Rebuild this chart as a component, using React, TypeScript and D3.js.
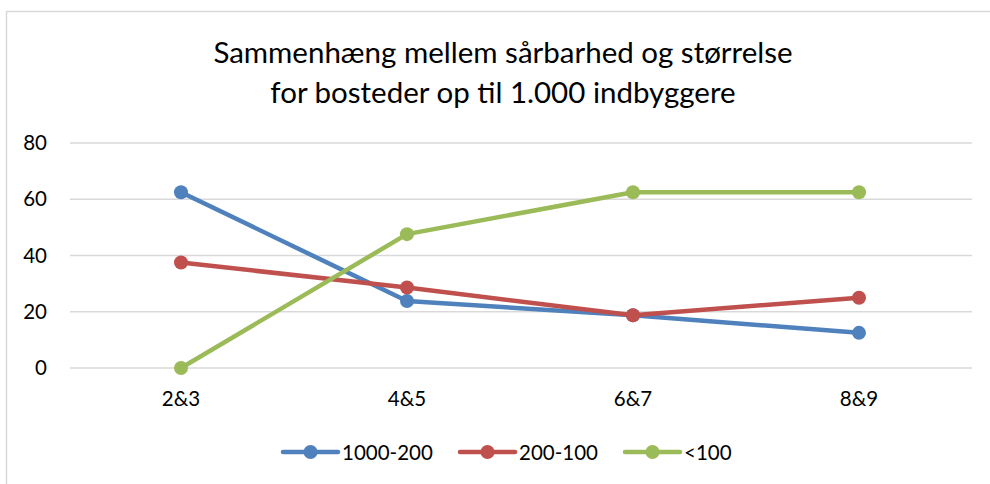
import React from "react";
import * as d3 from "d3";

const categories = ["2&3", "4&5", "6&7", "8&9"];
const seriesNames = ["1000-200", "200-100", "<100"];
const values1000_200 = [62.5, 23.8, 18.75, 12.5];
const values200_100 = [37.5, 28.6, 18.75, 25];
const valuesUnder100 = [0, 47.6, 62.5, 62.5];
const yTicks = [0, 20, 40, 60, 80];
const titleLines = ["Sammenhæng mellem sårbarhed og størrelse", "for bosteder op til 1.000 indbyggere"];
const colors = ["#4F81BD", "#C0504D", "#9BBB59"];

const W = 990;
const H = 484;
const FONT = "Lato, 'Open Sans', sans-serif";

export default function App() {
  const series = [values1000_200, values200_100, valuesUnder100];
  const x = d3.scaleBand<string>().domain(categories).range([68, 972]);
  const y = d3.scaleLinear().domain([0, 80]).range([368, 143]);
  const cx = (c: string) => (x(c) as number) + x.bandwidth() / 2;
  const line = d3
    .line<number>()
    .x((_, i) => cx(categories[i]))
    .y((d) => y(d));

  const legendX = [283, 460, 625];
  const legendY = 452;

  return (
    <svg width={W} height={H} style={{ position: "absolute", left: 0, top: 0 }}>
      <rect x={0} y={0} width={W} height={H} fill="#fff" />
      <line x1={6} x2={W} y1={11.5} y2={11.5} stroke="#d9d9d9" strokeWidth={1.5} />
      <line x1={6.5} x2={6.5} y1={11} y2={H} stroke="#d9d9d9" strokeWidth={1.5} />
      {titleLines.map((t, i) => (
        <text
          key={i}
          x={503}
          y={63 + i * 40}
          textAnchor="middle"
          fontFamily={FONT}
          fontSize={29.5}
          fill="#000"
        >
          {t}
        </text>
      ))}
      {yTicks.map((t) => (
        <g key={t}>
          <line x1={70} x2={972} y1={y(t)} y2={y(t)} stroke="#d9d9d9" strokeWidth={1.5} />
          <text x={47} y={y(t) + 7} textAnchor="end" fontFamily={FONT} fontSize={20.5} fill="#000">
            {t}
          </text>
        </g>
      ))}
      {categories.map((c) => (
        <text key={c} x={cx(c)} y={406} textAnchor="middle" fontFamily={FONT} fontSize={20.5} fill="#000">
          {c}
        </text>
      ))}
      {series.map((s, si) => (
        <g key={si}>
          <path d={line(s) || ""} fill="none" stroke={colors[si]} strokeWidth={4.5} strokeLinejoin="round" />
          {s.map((v, i) => (
            <circle key={i} cx={cx(categories[i])} cy={y(v)} r={7} fill={colors[si]} />
          ))}
        </g>
      ))}
      {seriesNames.map((n, si) => (
        <g key={n}>
          <line
            x1={legendX[si]}
            x2={legendX[si] + 55}
            y1={legendY}
            y2={legendY}
            stroke={colors[si]}
            strokeWidth={4.5}
            strokeLinecap="round"
          />
          <circle cx={legendX[si] + 27.5} cy={legendY} r={7} fill={colors[si]} />
          <text x={legendX[si] + 59} y={legendY + 7.5} fontFamily={FONT} fontSize={20.5} fill="#000">
            {n}
          </text>
        </g>
      ))}
    </svg>
  );
}
